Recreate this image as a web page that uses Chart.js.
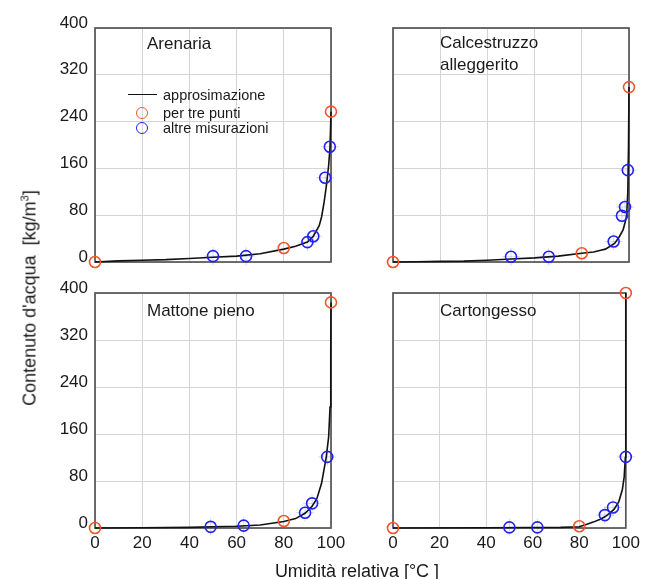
<!DOCTYPE html>
<html><head><meta charset="utf-8">
<script src="https://cdn.jsdelivr.net/npm/chart.js@4/dist/chart.umd.min.js"></script>
<style>
body{margin:0;background:#fff;width:645px;height:579px;overflow:hidden;position:relative;font-family:"Liberation Sans",Arial,sans-serif;color:#1a1a1a}
.cv{position:absolute;left:0;top:0}
.t{position:absolute;white-space:nowrap;line-height:1}
.ttl{font-size:17px}
.leg{font-size:14.5px}
.circ{position:absolute;box-sizing:border-box;width:12px;height:12px;border-radius:50%;border:1.6px solid}
</style></head><body>
<canvas class="cv" id="c0" width="645" height="579"></canvas>
<canvas class="cv" id="c1" width="645" height="579"></canvas>
<canvas class="cv" id="c2" width="645" height="579"></canvas>
<canvas class="cv" id="c3" width="645" height="579"></canvas>

<div class="t" style="left:29px;top:298px;font-size:18px;transform:translate(-50%,-50%) rotate(-90deg)">Contenuto d'acqua&nbsp;&nbsp;[kg/m<sup style="font-size:11px">3</sup>]</div>
<div class="t" style="left:357px;top:571px;font-size:18px;transform:translate(-50%,-50%)">Umidità relativa [°C ]</div>

<div class="t ttl" id="n0" style="left:147px;top:35px"></div>
<div class="t ttl" id="n1" style="left:440px;top:35px;line-height:22px;margin-top:-3px"></div>
<div class="t ttl" id="n2" style="left:147px;top:302px"></div>
<div class="t ttl" id="n3" style="left:440px;top:302px"></div>

<div style="position:absolute;left:128px;top:94px;width:29px;border-top:1.6px solid #111"></div>
<div class="circ" style="left:136px;top:107px;border-color:#f0552a"></div>
<div class="circ" style="left:136px;top:122px;border-color:#2222ee"></div>
<div class="t leg" id="l0" style="left:163px;top:88px"></div>
<div class="t leg" id="l1" style="left:163px;top:106px"></div>
<div class="t leg" id="l2" style="left:163px;top:121px"></div>

<script>
// ---- data ----
const xTicks = [0, 20, 40, 60, 80, 100];
const yTicks = [0, 80, 160, 240, 320, 400];
const panelNames = ["Arenaria", "Calcestruzzo<br>alleggerito", "Mattone pieno", "Cartongesso"];
const seriesNames = ["approsimazione", "per tre punti", "altre misurazioni"];

// Arenaria
const arenariaCurveX = [0, 10, 20, 30, 40, 50, 60, 70, 80, 85, 90, 92.5, 95, 96, 97, 98, 99, 99.6, 100];
const arenariaCurveY = [0, 2, 3, 4, 6, 8, 10, 14, 22, 27, 34, 44, 62, 77, 100, 129, 165, 197, 257];
const arenariaTreX = [0, 80, 100];
const arenariaTreY = [0, 24, 257];
const arenariaAltreX = [50, 64, 90, 92.5, 97.5, 99.5];
const arenariaAltreY = [10, 10, 34, 44, 144, 197];

// Calcestruzzo alleggerito
const calceCurveX = [0, 10, 20, 30, 40, 50, 60, 70, 80, 85, 88, 90, 92, 94, 96, 97.5, 98.5, 99, 99.5, 99.8, 100];
const calceCurveY = [0, 0.5, 1, 1.5, 3, 5, 7, 10, 15, 17, 20, 22, 27, 32, 44, 55, 70, 80, 120, 200, 299];
const calceTreX = [0, 80, 100];
const calceTreY = [0, 15, 299];
const calceAltreX = [50, 66, 93.5, 97, 98.3, 99.5];
const calceAltreY = [9, 9, 35, 79, 94, 157];

// Mattone pieno
const mattoneCurveX = [0, 20, 40, 50, 60, 70, 80, 85, 89, 92, 94, 96, 98, 99, 99.6, 99.9, 100];
const mattoneCurveY = [0, 0.5, 1, 2, 3, 5, 11, 16, 25, 37, 50, 76, 121, 155, 206, 300, 384];
const mattoneTreX = [0, 80, 100];
const mattoneTreY = [0, 12, 384];
const mattoneAltreX = [49, 63, 89, 92, 98.4];
const mattoneAltreY = [2, 4, 26, 42, 121];

// Cartongesso
const cartoCurveX = [0, 40, 60, 72, 80, 83, 86, 89, 91, 93, 95, 97, 98.5, 99.3, 99.8, 100];
const cartoCurveY = [0, 0.3, 0.8, 1, 2, 6, 10, 15, 19, 25, 32, 45, 65, 87, 120, 400];
const cartoTreX = [0, 80, 100];
const cartoTreY = [0, 3, 400];
const cartoAltreX = [50, 62, 91, 94.5, 100];
const cartoAltreY = [1, 1, 22, 35, 121];

// ---- layout / style ----
const ORANGE = '#f0552a', BLUE = '#2222ee';
const panels = [
  {id:'c0', left:95, right:331, top:28, bottom:262, showX:false, showY:true,
   cx:arenariaCurveX, cy:arenariaCurveY, tx:arenariaTreX, ty:arenariaTreY, ax:arenariaAltreX, ay:arenariaAltreY},
  {id:'c1', left:393, right:629, top:28, bottom:262, showX:false, showY:false,
   cx:calceCurveX, cy:calceCurveY, tx:calceTreX, ty:calceTreY, ax:calceAltreX, ay:calceAltreY},
  {id:'c2', left:95, right:331, top:293, bottom:528, showX:true, showY:true,
   cx:mattoneCurveX, cy:mattoneCurveY, tx:mattoneTreX, ty:mattoneTreY, ax:mattoneAltreX, ay:mattoneAltreY},
  {id:'c3', left:393, right:629, top:293, bottom:528, showX:true, showY:false,
   cx:cartoCurveX, cy:cartoCurveY, tx:cartoTreX, ty:cartoTreY, ax:cartoAltreX, ay:cartoAltreY}
];

panelNames.forEach((n,i)=>document.getElementById('n'+i).innerHTML=n);
seriesNames.forEach((n,i)=>document.getElementById('l'+i).textContent=n);

const pts = (xs, ys) => xs.map((x, i) => ({x: x, y: ys[i]}));

const framePlugin = {
  id: 'frame',
  beforeDatasetsDraw(chart) {
    const a = chart.chartArea, ctx = chart.ctx;
    ctx.save();
    ctx.strokeStyle = '#555';
    ctx.lineWidth = 1.7;
    ctx.strokeRect(a.left, a.top, a.right - a.left, a.bottom - a.top);
    ctx.restore();
  }
};

const tickFont = {family: '"Liberation Sans", Arial, sans-serif', size: 17};

panels.forEach(p => {
  new Chart(document.getElementById(p.id), {
    type: 'scatter',
    data: {datasets: [
      {label: seriesNames[0], data: pts(p.cx, p.cy), showLine: true, pointRadius: 0,
       borderColor: '#111', borderWidth: 1.6, order: 2, clip: false},
      {label: seriesNames[1], data: pts(p.tx, p.ty), showLine: false, pointStyle: 'circle', pointRadius: 5.5,
       borderColor: ORANGE, backgroundColor: 'rgba(0,0,0,0)', borderWidth: 1.6, order: 0, clip: false},
      {label: seriesNames[2], data: pts(p.ax, p.ay), showLine: false, pointStyle: 'circle', pointRadius: 5.5,
       borderColor: BLUE, backgroundColor: 'rgba(0,0,0,0)', borderWidth: 1.6, order: 1, clip: false},
      {label: 'err', data: pts(p.ax, p.ay), showLine: false, pointStyle: 'cross', pointRadius: 9,
       borderColor: 'rgba(110,110,255,0.28)', borderWidth: 1, order: 3, clip: false}
    ]},
    options: {
      responsive: false, animation: false, events: [],
      plugins: {legend: {display: false}, tooltip: {enabled: false}},
      layout: {padding: {left: p.left - 50, top: p.top, right: 645 - p.right, bottom: 579 - p.bottom - 30}},
      scales: {
        x: {type: 'linear', min: 0, max: 100,
            afterBuildTicks: s => { s.ticks = xTicks.map(v => ({value: v})); },
            afterFit: s => { s.height = 30; },
            ticks: {display: p.showX, color: '#1a1a1a', font: tickFont, padding: 5, maxRotation: 0},
            grid: {color: '#d4d4d4', lineWidth: 1, drawTicks: false},
            border: {display: false}},
        y: {type: 'linear', min: 0, max: 400,
            afterBuildTicks: s => { s.ticks = yTicks.map(v => ({value: v})); },
            afterFit: s => { s.width = 50; },
            ticks: {display: p.showY, color: '#1a1a1a', font: tickFont, padding: 7, labelOffset: -5},
            grid: {color: '#d4d4d4', lineWidth: 1, drawTicks: false},
            border: {display: false}}
      }
    },
    plugins: [framePlugin]
  });
});
</script>
</body></html>
